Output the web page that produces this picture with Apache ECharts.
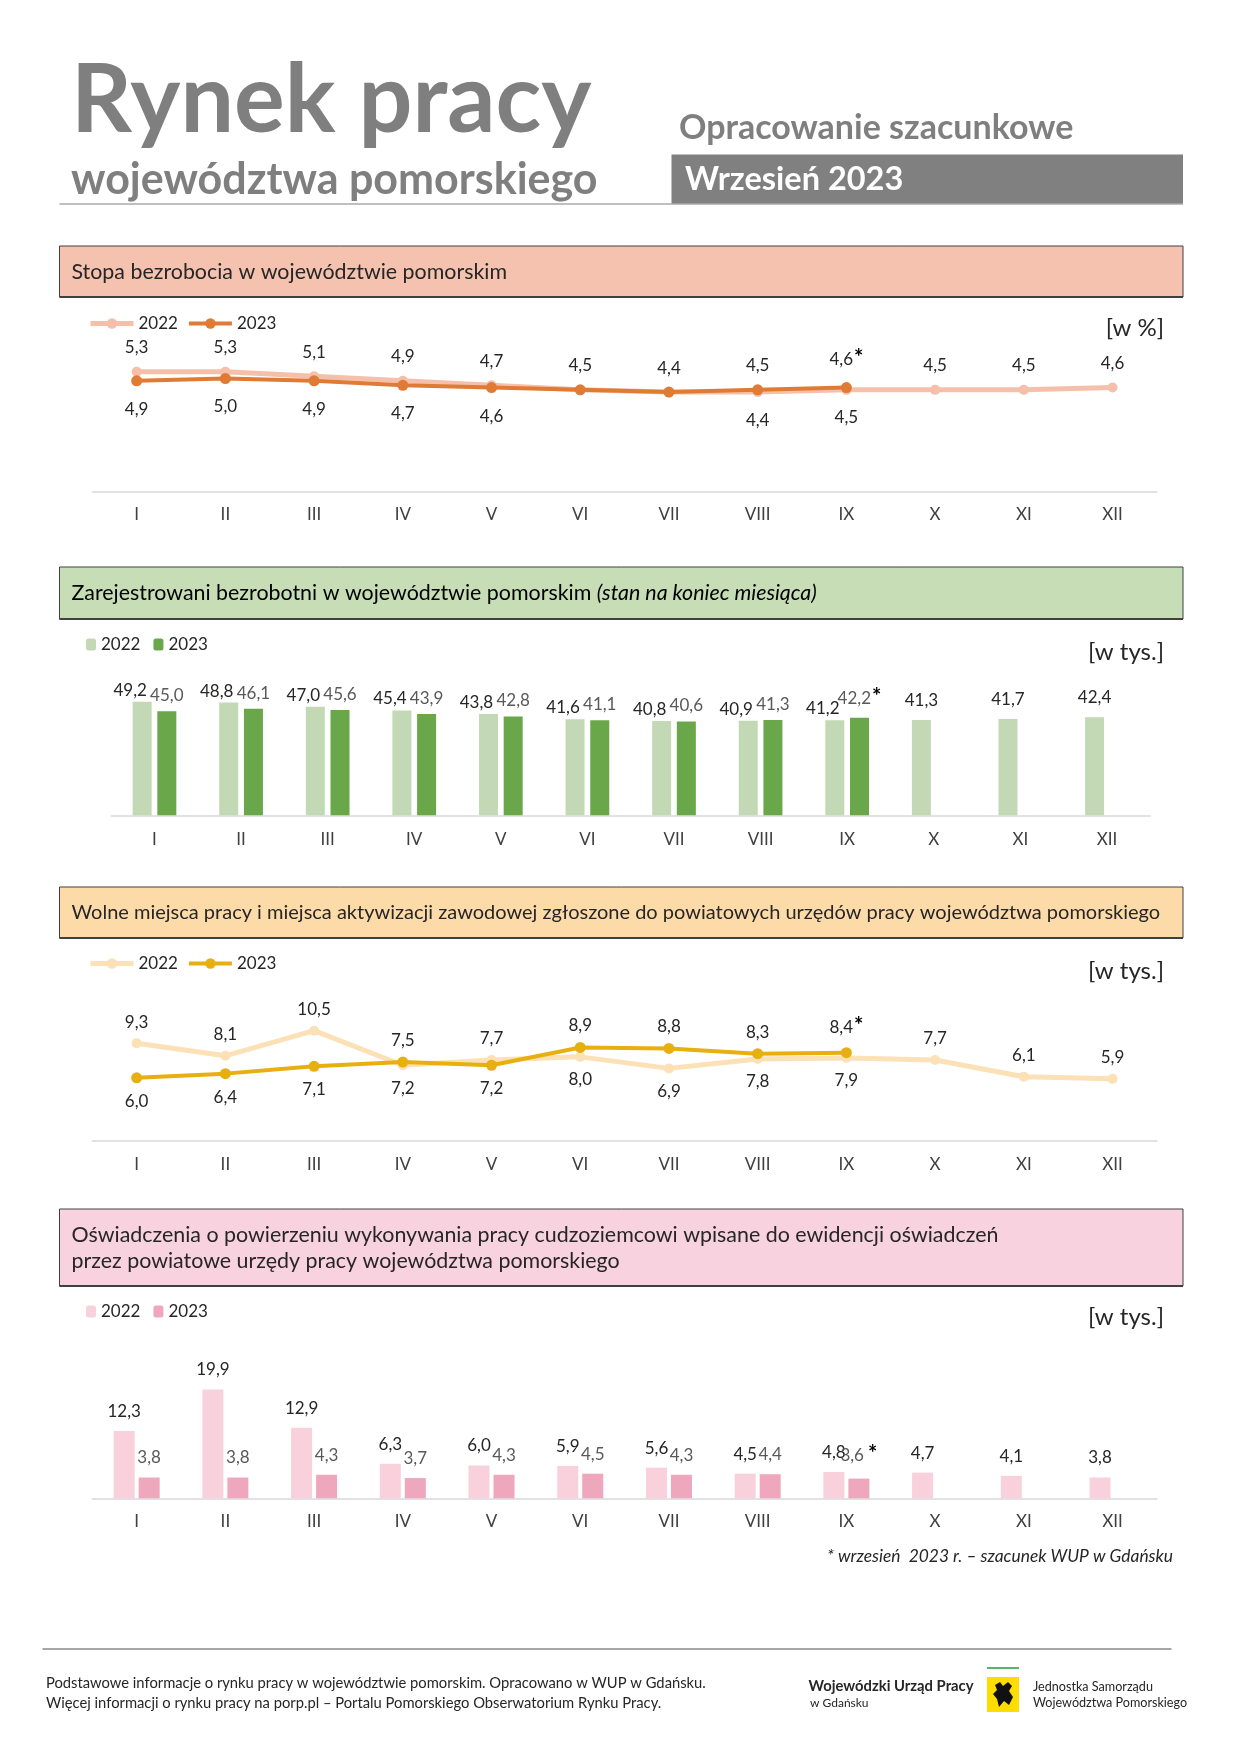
<!DOCTYPE html>
<html>
<head>
<meta charset="utf-8">
<script src="https://cdn.jsdelivr.net/npm/echarts@6/dist/echarts.min.js"></script>
<style>
html,body{margin:0;padding:0;background:#fff;}
#c{width:1241px;height:1755px;}
</style>
</head>
<body>
<div id="c"></div>
<script>
// ---- data ----
const months = ['I','II','III','IV','V','VI','VII','VIII','IX','X','XI','XII'];
const rate2022 = [5.3,5.3,5.1,4.9,4.7,4.5,4.4,4.4,4.5,4.5,4.5,4.6];
const rate2023 = [4.9,5.0,4.9,4.7,4.6,4.5,4.4,4.5,4.6];
const unemp2022 = [49.2,48.8,47.0,45.4,43.8,41.6,40.8,40.9,41.2,41.3,41.7,42.4];
const unemp2023 = [45.0,46.1,45.6,43.9,42.8,41.1,40.6,41.3,42.2];
const vac2022 = [9.3,8.1,10.5,7.2,7.7,8.0,6.9,7.8,7.9,7.7,6.1,5.9];
const vac2023 = [6.0,6.4,7.1,7.5,7.2,8.9,8.8,8.3,8.4];
const decl2022 = [12.3,19.9,12.9,6.3,6.0,5.9,5.6,4.5,4.8,4.7,4.1,3.8];
const decl2023 = [3.8,3.8,4.3,3.7,4.3,4.5,4.3,4.4,3.6];

const FONT = 'Lato, "Noto Sans", sans-serif';
const fmt = v => v.toFixed(1).replace('.', ',');
const DARK = '#262626';

function labelFmt(own, isNew, sep) {
  return p => {
    const s = '{v|' + fmt(p.value) + '}';
    return (isNew && p.dataIndex === own.length - 1) ? s + (sep || '') + '{s|*}' : s;
  };
}
const richBase = (color) => ({
  v: {fontFamily: FONT, fontSize: 17, color: color},
  s: {fontFamily: FONT, fontSize: 22, fontWeight: 'bold', color: '#000', padding: [0,0,3,1]}
});

function lineData(own, other, isNew, up, down) {
  return own.map((v, i) => {
    const o = other[i];
    let pos = 'top', show = true;
    if (o !== undefined) {
      if (v < o) pos = 'bottom';
      else if (v === o && isNew) show = false;
    }
    return {value: v, label: {show: show, position: pos, distance: pos === 'top' ? up : down}};
  });
}

function lineSeries(name, own, other, isNew, idx, color, width, sym, up, down) {
  return {
    name: name, type: 'line', xAxisIndex: idx, yAxisIndex: idx,
    data: lineData(own, other, isNew, up, down),
    symbol: 'circle', symbolSize: sym, z: isNew ? 4 : 3,
    lineStyle: {color: color, width: width},
    itemStyle: {color: color},
    label: {show: true, formatter: labelFmt(own, isNew), rich: richBase(DARK)},
    emphasis: {disabled: true}, animation: false
  };
}

function barSeries(name, own, other, isNew, idx, color, width, gap, labelColor, cfg) {
  return {
    name: name, type: 'bar', xAxisIndex: idx, yAxisIndex: idx,
    barWidth: width, barGap: gap,
    data: own.map((v, i) => {
      const paired = !isNew && other[i] !== undefined;
      const c = paired ? cfg.paired : cfg.single;
      return {value: v, label: {offset: c.offset, distance: c.distance}};
    }),
    itemStyle: {color: color},
    label: {show: true, position: 'top', formatter: labelFmt(own, isNew, cfg.sep), rich: richBase(labelColor)},
    emphasis: {disabled: true}, animation: false
  };
}

const grids = [
  {left: 92.3, width: 1064.6, top: 310.4, height: 181.6},
  {left: 111.2, width: 1039, top: 676.7, height: 138.6},
  {left: 92.3, width: 1064.6, top: 983.5, height: 157.2},
  {left: 92.3, width: 1064.6, top: 1361.5, height: 136.8}
];
const yMax = [8, 60, 15, 25];
const labelMargin = [14, 16, 15, 15];

const xAxes = grids.map((g, i) => ({
  type: 'category', gridIndex: i, data: months, boundaryGap: true,
  axisLine: {lineStyle: {color: '#d9d9d9', width: 1.5}},
  axisTick: {show: false},
  axisLabel: {fontFamily: FONT, fontSize: 17, color: '#404040', margin: labelMargin[i]}
}));
const yAxes = grids.map((g, i) => ({
  type: 'value', gridIndex: i, min: 0, max: yMax[i], show: false, splitLine: {show: false}
}));

function legendBase(top, left, names, line, widths) {
  return {
    top: top, left: left, orient: 'horizontal',
    data: names.map((n, k) => line ? {name: n, lineStyle: {width: widths[k]}} : {name: n}),
    formatter: n => n.slice(1),
    itemWidth: line ? 43 : 10, itemHeight: line ? 13 : 12,
    itemGap: line ? 9 : 13,
    textStyle: {fontFamily: FONT, fontSize: 17, color: DARK},
    selectedMode: false
  };
}

const C1a = '#F5BFAA', C1b = '#E07B36';
const C2a = '#C3D9B5', C2b = '#6AA64A';
const C3a = '#FCE0B6', C3b = '#E8AF10';
const C4a = '#F8D1DD', C4b = '#EEA7BC';

const series = [
  lineSeries('a2022', rate2022, rate2023, false, 0, C1a, 5, 10, 10.5, 14.5),
  lineSeries('a2023', rate2023, rate2022, true, 0, C1b, 4, 11, 10.5, 14.5),
  barSeries('b2022', unemp2022, unemp2023, false, 1, C2a, 19, '30%', DARK,
    {paired: {offset: [-12, 0], distance: 3}, single: {offset: [0, 0], distance: 11}}),
  barSeries('b2023', unemp2023, unemp2022, true, 1, C2b, 19, '30%', '#595959',
    {paired: {offset: [0, 0], distance: 7}, single: {offset: [0, 0], distance: 7}, sep: ''}),
  lineSeries('c2022', vac2022, vac2023, false, 2, C3a, 5, 10, 7.5, 9.5),
  lineSeries('c2023', vac2023, vac2022, true, 2, C3b, 4, 11, 7.5, 9.5),
  barSeries('d2022', decl2022, decl2023, false, 3, C4a, 21, '19%', DARK,
    {paired: {offset: [0, 0], distance: 11}, single: {offset: [0, 0], distance: 11}}),
  barSeries('d2023', decl2023, decl2022, true, 3, C4b, 21, '19%', '#595959',
    {paired: {offset: [0, 0], distance: 11}, single: {offset: [0, 0], distance: 11}, sep: ' '})
];

// ---- static graphics ----
function txt(x, y, text, size, opts) {
  opts = opts || {};
  return {type: 'text', x: x, y: y, silent: true, style: {
    text: text, fontFamily: FONT, fontSize: size, fontWeight: opts.bold ? 'bold' : 'normal',
    fontStyle: opts.italic ? 'italic' : 'normal',
    fill: opts.color || DARK, align: opts.align || 'left', verticalAlign: 'middle'
  }};
}
const BX = 59.5, BW = 1123.5;
function box(y, h, fill) {
  return [
    {type: 'rect', silent: true, shape: {x: BX, y: y, width: BW, height: h},
     style: {fill: fill, stroke: '#404040', lineWidth: 1}},
    {type: 'line', silent: true, shape: {x1: BX, y1: y + h, x2: BX + BW, y2: y + h},
     style: {stroke: '#404040', lineWidth: 2}}
  ];
}
const GRAY = '#7f7f7f';
const RX = 1164;
const graphic = [
  txt(71, 101, 'Rynek pracy', 95, {bold: true, color: GRAY}),
  txt(71, 180, 'województwa pomorskiego', 43, {bold: true, color: GRAY}),
  {type: 'line', silent: true, shape: {x1: 59.5, y1: 204, x2: 1183, y2: 204}, style: {stroke: '#bfbfbf', lineWidth: 2}},
  txt(679, 128, 'Opracowanie szacunkowe', 34, {bold: true, color: GRAY}),
  {type: 'rect', silent: true, shape: {x: 671.5, y: 154.5, width: 1183 - 671.5, height: 49}, style: {fill: '#808080'}},
  txt(685, 180, 'Wrzesień 2023', 32.5, {bold: true, color: '#ffffff'}),

  ...box(246, 51, '#F5C2AF'),
  txt(71.5, 272, 'Stopa bezrobocia w województwie pomorskim', 21.4),
  txt(RX, 328, '[w %]', 24, {align: 'right'}),

  ...box(567, 52, '#C6DDB6'),
  {type: 'text', x: 71.5, y: 593, silent: true, style: {
    text: '{n|Zarejestrowani bezrobotni w województwie pomorskim }{i|(stan na koniec miesiąca)}',
    verticalAlign: 'middle', align: 'left',
    rich: {n: {fontFamily: FONT, fontSize: 21.4, color: DARK},
           i: {fontFamily: FONT, fontSize: 21.4, fontStyle: 'italic', color: DARK}}}},
  txt(RX, 652, '[w tys.]', 24, {align: 'right'}),

  ...box(887, 51, '#FDDBA9'),
  txt(71.5, 913, 'Wolne miejsca pracy i miejsca aktywizacji zawodowej zgłoszone do powiatowych urzędów pracy województwa pomorskiego', 20),
  txt(RX, 971, '[w tys.]', 24, {align: 'right'}),

  ...box(1209, 77, '#F8D2DE'),
  txt(71.5, 1235, 'Oświadczenia o powierzeniu wykonywania pracy cudzoziemcowi wpisane do ewidencji oświadczeń', 21.4),
  txt(71.5, 1261, 'przez powiatowe urzędy pracy województwa pomorskiego', 21.4),
  txt(RX, 1317, '[w tys.]', 24, {align: 'right'}),

  txt(1173, 1556, '* wrzesień  2023 r. – szacunek WUP w Gdańsku', 17.4, {italic: true, align: 'right'}),

  {type: 'line', silent: true, shape: {x1: 42.5, y1: 1649, x2: 1171.5, y2: 1649}, style: {stroke: '#a6a6a6', lineWidth: 2}},
  txt(46, 1683, 'Podstawowe informacje o rynku pracy w województwie pomorskim. Opracowano w WUP w Gdańsku.', 14.75),
  txt(46, 1703, 'Więcej informacji o rynku pracy na porp.pl – Portalu Pomorskiego Obserwatorium Rynku Pracy.', 14.75),
  txt(973.5, 1686, 'Wojewódzki Urząd Pracy', 14.8, {bold: true, align: 'right'}),
  txt(810, 1703, 'w Gdańsku', 12),
  {type: 'line', silent: true, shape: {x1: 987, y1: 1668, x2: 1019, y2: 1668}, style: {stroke: '#5BB36A', lineWidth: 2}},
  {type: 'rect', silent: true, shape: {x: 987, y: 1677, width: 32, height: 35}, style: {fill: '#FFDD00'}},
  {type: 'polygon', silent: true, shape: {points: [[995,1685],[1000,1682],[1003,1686],[1008,1682],[1012,1686],[1009,1691],[1013,1697],[1009,1705],[1004,1701],[999,1707],[997,1699],[993,1694],[997,1690]]}, style: {fill: '#111'}},
  txt(1033, 1687, 'Jednostka Samorządu', 12.6),
  txt(1033, 1703, 'Województwa Pomorskiego', 12.6)
];

const chart = echarts.init(document.getElementById('c'), null, {renderer: 'canvas'});
chart.setOption({
  backgroundColor: '#ffffff',
  animation: false,
  textStyle: {fontFamily: FONT},
  grid: grids,
  xAxis: xAxes,
  yAxis: yAxes,
  legend: [
    legendBase(310, 83, ['a2022', 'a2023'], true, [5, 4]),
    legendBase(631, 81, ['b2022', 'b2023'], false),
    legendBase(950, 83, ['c2022', 'c2023'], true, [5, 4]),
    legendBase(1298, 81, ['d2022', 'd2023'], false)
  ],
  series: series,
  graphic: graphic
});
</script>
</body>
</html>
